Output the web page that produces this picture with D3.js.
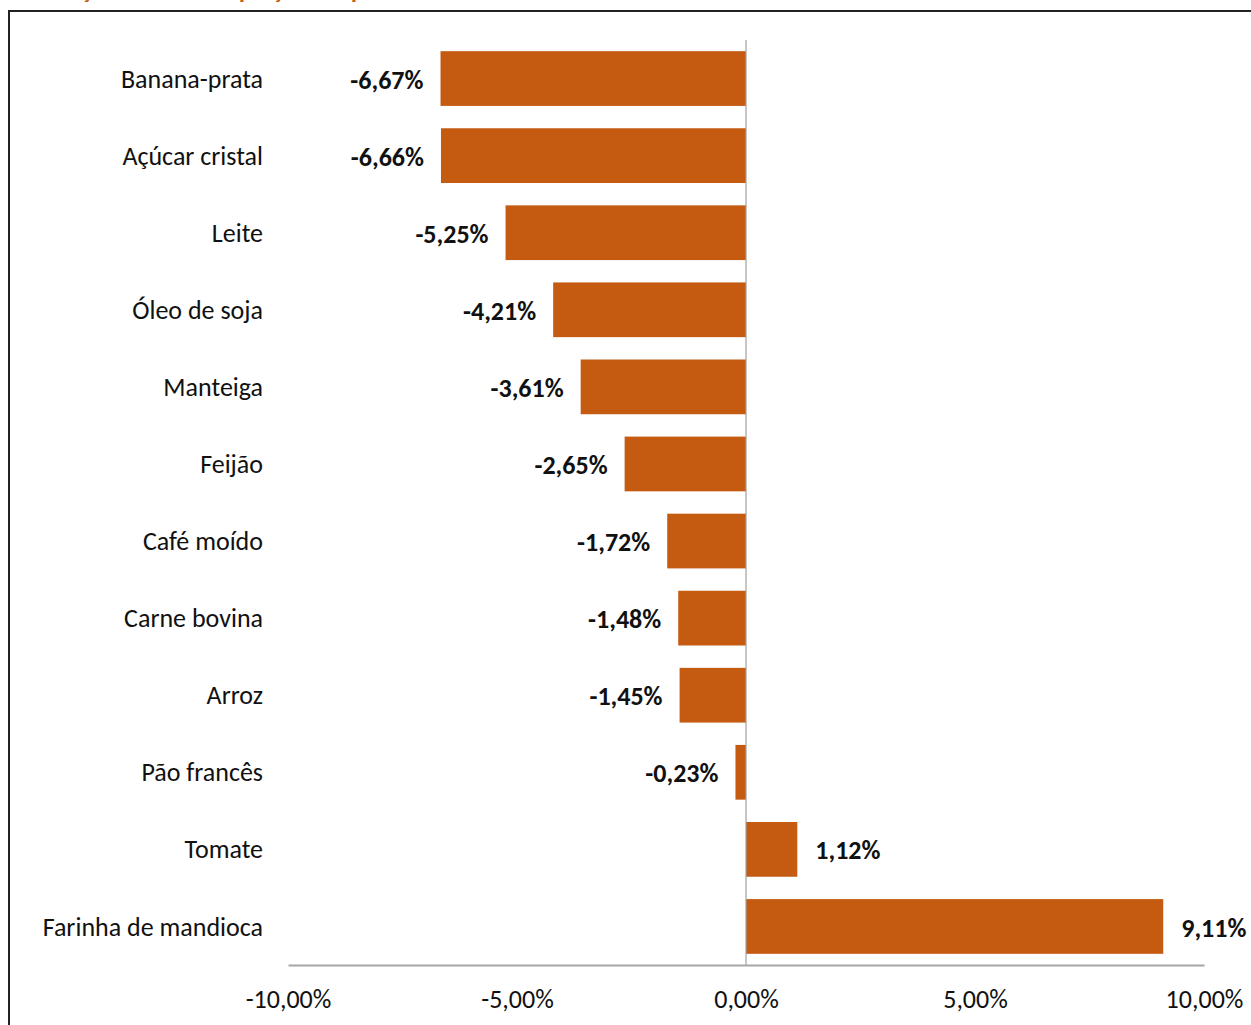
<!DOCTYPE html>
<html>
<head>
<meta charset="utf-8">
<script src="https://cdn.jsdelivr.net/npm/d3@7/dist/d3.min.js"></script>
<style>
  html, body { margin: 0; padding: 0; background: #fff; }
  svg { display: block; }
  text { font-family: Carlito, Calibri, Lato, "Open Sans", sans-serif; }
</style>
</head>
<body>
<svg id="chart" width="1251" height="1025"></svg>
<script>
const categories = ["Banana-prata", "Açúcar cristal", "Leite", "Óleo de soja", "Manteiga", "Feijão", "Café moído", "Carne bovina", "Arroz", "Pão francês", "Tomate", "Farinha de mandioca"];
const values = [-6.67, -6.66, -5.25, -4.21, -3.61, -2.65, -1.72, -1.48, -1.45, -0.23, 1.12, 9.11];
const tickValues = [-10, -5, 0, 5, 10];
const titleText = "Variação mensal dos preços dos produtos";

const fmt = v => v.toFixed(2).replace(".", ",") + "%";
const FS = 26;

const svg = d3.select("#chart");

// frame (only top and left edges visible)
svg.append("rect").attr("x", 9).attr("y", 11).attr("width", 1300).attr("height", 1100)
  .attr("fill", "none").attr("stroke", "#222").attr("stroke-width", 2);

// title, cut off by the top edge (only descenders visible, as in the reference)
svg.append("text").attr("x", 30).attr("y", -2).attr("fill", "#C55A11")
  .attr("font-weight", "bold").attr("font-size", 24).text(titleText);

const x = d3.scaleLinear().domain([-10, 10]).range([288, 1204]);
const y = d3.scaleBand().domain(categories).range([40, 965]).paddingInner(0.29).paddingOuter(0.145);

// bars
svg.append("g").selectAll("rect").data(values).join("rect")
  .attr("x", (d) => x(Math.min(0, d)))
  .attr("y", (d, i) => y(categories[i]))
  .attr("width", d => Math.abs(x(d) - x(0)))
  .attr("height", y.bandwidth())
  .attr("fill", "#C55A11");

// zero line
svg.append("line").attr("x1", x(0)).attr("x2", x(0)).attr("y1", 40).attr("y2", 965)
  .attr("stroke", "#a0a0a0").attr("stroke-width", 1.2);

// x axis
const xAxis = d3.axisBottom(x).tickValues(tickValues).tickFormat(d => d.toFixed(2).replace(".", ",") + "%").tickSize(0).tickPadding(25);
const gx = svg.append("g").attr("transform", "translate(0,965)").call(xAxis);
gx.select(".domain").attr("stroke", "#a6a6a6").attr("stroke-width", 2);
gx.selectAll("text").attr("font-size", FS).attr("fill", "#111").style("font-family", "Carlito, Calibri, Lato, sans-serif");

// category labels
svg.append("g").selectAll("text").data(categories).join("text")
  .attr("x", 263)
  .attr("y", d => y(d) + y.bandwidth() / 2)
  .attr("dy", "0.35em")
  .attr("text-anchor", "end")
  .attr("font-size", FS)
  .attr("fill", "#111")
  .text(d => d);

// value labels
svg.append("g").selectAll("text").data(values).join("text")
  .attr("x", d => d < 0 ? x(d) - 17 : x(d) + 18)
  .attr("y", (d, i) => y(categories[i]) + y.bandwidth() / 2 + 1)
  .attr("dy", "0.35em")
  .attr("text-anchor", d => d < 0 ? "end" : "start")
  .attr("font-size", FS)
  .attr("font-weight", "bold")
  .attr("fill", "#111")
  .text(d => fmt(d));
</script>
</body>
</html>
